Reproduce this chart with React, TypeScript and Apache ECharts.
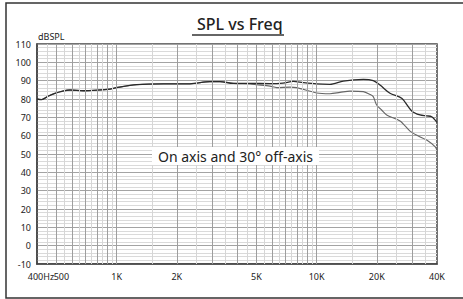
import React, { useEffect, useRef } from 'react';
import * as echarts from 'echarts';

// ---- data ----
const onAxisFreq = [400, 422, 454, 492, 533, 585, 682, 796, 927, 1000, 1260, 1712, 2328, 2930, 3289, 3832, 4646, 5848, 6793, 7647, 8580, 10012, 11668, 13600, 17120, 19200, 20750, 23280, 26640, 29890, 32890, 35510, 37630, 40000];
const onAxisSpl = [80.0, 79.7, 81.5, 83.1, 84.2, 84.9, 84.5, 84.8, 85.4, 86.2, 87.8, 88.3, 88.3, 89.5, 89.5, 88.5, 88.5, 88.4, 88.7, 89.6, 88.9, 88.2, 88.0, 89.8, 90.7, 90.0, 87.6, 83.1, 80.4, 73.5, 71.3, 70.8, 70.3, 67.3];

const offAxisFreq = [400, 422, 454, 492, 533, 585, 682, 796, 927, 1000, 1260, 1712, 2328, 2930, 3289, 3832, 4646, 5020, 5848, 6318, 7362, 7950, 10012, 11668, 13090, 14690, 17120, 18490, 19200, 19970, 21150, 22410, 26130, 29310, 32250, 35510, 39090, 40000];
const offAxisSpl = [80.0, 79.7, 81.5, 83.1, 84.2, 84.9, 84.5, 84.8, 85.4, 86.2, 87.8, 88.3, 88.3, 89.5, 89.5, 88.5, 88.2, 87.8, 87.0, 86.2, 86.5, 86.2, 83.3, 82.9, 83.6, 84.3, 84.0, 82.5, 81.3, 76.7, 74.0, 71.3, 68.0, 62.5, 59.8, 57.6, 54.0, 52.0];

const xStartTickValue = [400];
const xStartTickLabel = '400Hz';
const xTickValues = [500, 1000, 2000, 5000, 10000, 20000, 40000];
const xTickLabels = ['500', '1K', '2K', '5K', '10K', '20K', '40K'];

const majorFreqLines = [500, 600, 700, 800, 900, 1000, 2000, 3000, 4000, 5000, 6000, 7000, 8000, 9000, 10000, 20000, 30000];
const minorFreqLines = [450, 550, 650, 750, 850, 950, 1500, 2500, 3500, 4500, 5500, 6500, 7500, 8500, 9500, 15000, 25000, 35000];

const yMin = -10;
const yMax = 110;
const yStep = 10;

const FONT = '"Noto Sans", sans-serif';

function labelFor(v: number): string {
  for (let i = 0; i < xTickValues.length; i++) {
    if (Math.abs(Math.log10(v) - Math.log10(xTickValues[i])) < 1e-6) {
      if (i === 0) return '{b|' + xTickLabels[i] + '}';
      return xTickLabels[i];
    }
  }
  return '';
}

export default function App() {
  const ref = useRef<HTMLDivElement>(null);
  useEffect(() => {
    const chart = echarts.init(ref.current!, null, { renderer: 'svg' });
    const onData = onAxisFreq.map((f, i) => [f, onAxisSpl[i]]);
    const offData = offAxisFreq.map((f, i) => [f, offAxisSpl[i]]);
    const baseX = {
      type: 'log',
      logBase: 10,
      min: 400,
      max: 40000,
      gridIndex: 0,
      position: 'bottom',
      axisTick: { show: false },
      splitLine: { show: false },
    };
    chart.setOption({
      animation: false,
      backgroundColor: '#ffffff',
      title: {
        text: 'SPL vs Freq',
        left: 192,
        top: 11,
        textStyle: { fontFamily: FONT, fontSize: 16, fontWeight: 500, color: '#222' },
      },
      grid: {
        left: 37,
        right: 26,
        top: 44,
        bottom: 35,
        containLabel: false,
        outerBoundsMode: 'none',
        show: true,
        borderColor: '#444',
        borderWidth: 1.5,
      },
      xAxis: [
        {
          ...baseX,
          axisLine: { show: true, onZero: false, lineStyle: { color: '#444', width: 1.5 } },
          axisLabel: {
            customValues: xTickValues,
            formatter: labelFor,
            showMinLabel: true,
            showMaxLabel: true,
            hideOverlap: false,
            margin: 8,
            fontFamily: FONT,
            fontSize: 9,
            color: '#222',
            rich: {
              b: { fontFamily: FONT, fontSize: 9, color: '#222', padding: [0, 0, 0, 10] },
            },
          },
        },
        {
          ...baseX,
          axisLine: { show: false, onZero: false },
          axisLabel: {
            customValues: xStartTickValue,
            formatter: () => '{a|' + xStartTickLabel + '}',
            showMinLabel: true,
            margin: 8,
            fontFamily: FONT,
            fontSize: 9,
            color: '#222',
            rich: {
              a: { fontFamily: FONT, fontSize: 9, color: '#222', padding: [0, 0, 0, 8] },
            },
          },
        },
      ],
      yAxis: [
        {
          type: 'value',
          min: yMin,
          max: yMax,
          interval: yStep,
          name: 'dBSPL',
          nameLocation: 'end',
          nameGap: 3,
          nameTextStyle: { fontFamily: FONT, fontSize: 9, color: '#222', align: 'left', verticalAlign: 'bottom', padding: [0, 0, 0, 1] },
          axisLine: { show: true, onZero: false, lineStyle: { color: '#444', width: 1.5 } },
          axisTick: { show: false },
          axisLabel: { margin: 6, fontFamily: FONT, fontSize: 9, color: '#222' },
          splitLine: { show: true, lineStyle: { color: '#a3a3a3', width: 1 } },
          minorTick: { show: false, splitNumber: 5 },
          minorSplitLine: { show: true, lineStyle: { color: '#dadada', width: 1 } },
        },
      ],
      graphic: [
        {
          type: 'line',
          shape: { x1: 192, y1: 35, x2: 284, y2: 35 },
          style: { stroke: '#333', lineWidth: 1.5 },
          z: 100,
        },
        {
          type: 'rect',
          shape: { x: 6, y: 3, width: 480, height: 295 },
          style: { fill: 'none', stroke: '#333', lineWidth: 1.5 },
          z: 100,
        },
        {
          type: 'text',
          left: 152,
          top: 147,
          z: 100,
          style: {
            text: 'On axis and 30° off-axis',
            fontFamily: FONT,
            fontSize: 14,
            fill: '#222',
            backgroundColor: '#ffffff',
            padding: [2, 6, 2, 6],
          },
        },
      ],
      series: [
        {
          type: 'line',
          name: 'grid-lines',
          data: [],
          silent: true,
          markLine: {
            silent: true,
            symbol: ['none', 'none'],
            label: { show: false },
            animation: false,
            data: [
              ...minorFreqLines.map((f) => ({ xAxis: f, lineStyle: { color: '#d6d6d6', width: 1, type: 'solid' } })),
              ...majorFreqLines.map((f) => ({ xAxis: f, lineStyle: { color: '#9e9e9e', width: 1, type: 'solid' } })),
            ],
          },
        },
        {
          type: 'line',
          name: '30° off-axis',
          data: offData,
          showSymbol: false,
          smooth: 0.3,
          lineStyle: { color: '#666', width: 1.1 },
          z: 3,
        },
        {
          type: 'line',
          name: 'On axis',
          data: onData,
          showSymbol: false,
          smooth: 0.3,
          lineStyle: { color: '#2a2a2a', width: 1.3 },
          z: 4,
        },
      ],
    });
    return () => chart.dispose();
  }, []);
  return (
    <div
      ref={ref}
      style={{ position: 'fixed', left: 0, top: 0, width: 463, height: 299, background: '#fff' }}
    />
  );
}
